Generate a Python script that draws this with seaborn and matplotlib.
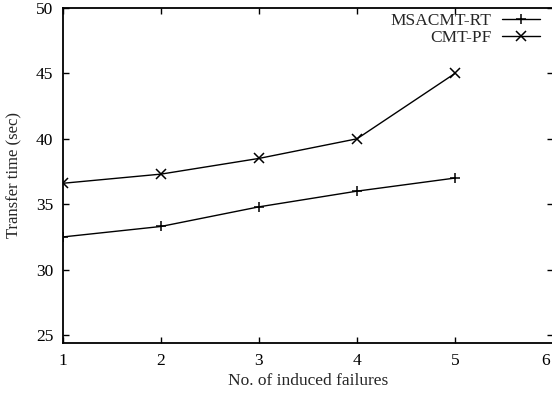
import matplotlib
matplotlib.use("Agg")
import matplotlib.pyplot as plt
import matplotlib.transforms as mtransforms
import seaborn as sns
import pandas as pd

failures = [1, 2, 3, 4, 5]
msacmt_rt = [32.5, 33.3, 34.8, 36.0, 37.0]
cmt_pf = [36.6, 37.3, 38.5, 40.0, 45.0]
series_names = ["MSACMT-RT", "CMT-PF"]
yticks = [25, 30, 35, 40, 45, 50]
xticks = [1, 2, 3, 4, 5, 6]

df = pd.DataFrame({
    "x": failures * 2,
    "y": msacmt_rt + cmt_pf,
    "series": [series_names[0]] * len(failures) + [series_names[1]] * len(failures),
})

sns.set_style("ticks")
plt.rcParams["font.family"] = ["Liberation Serif", "DejaVu Serif"]

fig = plt.figure(figsize=(5.52, 3.96), dpi=100)
ax = fig.add_axes([0.114, 0.134, 0.888, 0.846])

sns.lineplot(data=df, x="x", y="y", hue="series", style="series",
             palette={series_names[0]: "black", series_names[1]: "black"},
             markers={series_names[0]: "+", series_names[1]: "x"},
             dashes=False, markersize=7, markeredgewidth=1.1,
             markeredgecolor="black", linewidth=1.0,
             ax=ax, legend=True)

ax.set_xlim(1, 6)
ax.set_ylim(24.4, 50)
ax.set_xticks(xticks)
ax.set_yticks(yticks)
ax.tick_params(direction="in", length=4, width=1, labelsize=12.5, colors="black",
               top=True, right=True, pad=7)
for s in ax.spines.values():
    s.set_linewidth(1.3)
    s.set_color("black")
ax.spines["right"].set_visible(False)
ax.set_xlabel("No. of induced failures", fontsize=12.5, labelpad=3)
ax.set_ylabel("Transfer time (sec)", fontsize=12, labelpad=10)

fig.canvas.draw()
last = ax.get_xticklabels()[-1]
last.set_transform(last.get_transform() + mtransforms.ScaledTranslation(-8 / 100, 0, fig.dpi_scale_trans))

handles, labels = ax.get_legend_handles_labels()
for h in handles:
    h.set_markeredgecolor("black")
ax.legend(handles, labels, loc="upper right", bbox_to_anchor=(0.995, 1.015),
          frameon=False, markerfirst=False, fontsize=12.5, handlelength=2.2,
          handletextpad=0.6, labelspacing=0.05, borderaxespad=0.2)

fig.savefig("out.png", dpi=100)
